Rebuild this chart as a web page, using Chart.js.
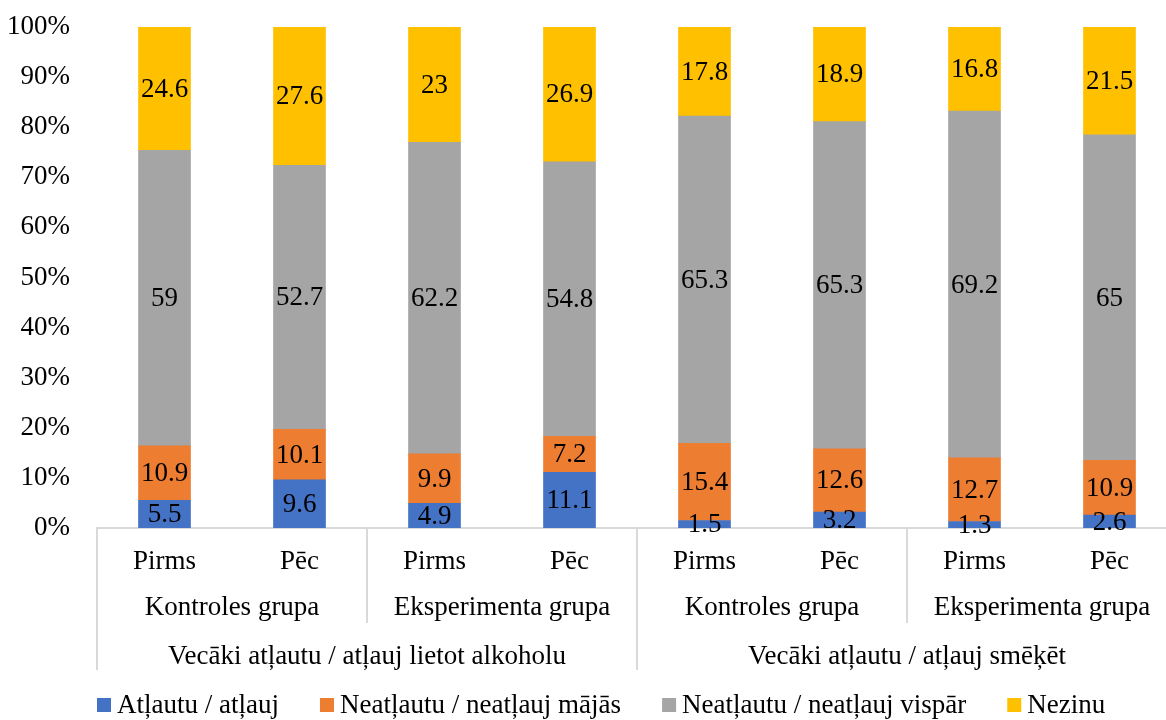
<!DOCTYPE html>
<html lang="lv">
<head>
    <meta charset="UTF-8">
    <title>Vecāki atļautu / atļauj</title>
    <script src="https://cdn.jsdelivr.net/npm/chart.js"></script>
    <style>
        html, body {
            margin: 0;
            padding: 0;
            background: #ffffff;
            overflow: hidden;
        }
        #wrap {
            width: 1178px;
            height: 720px;
        }
    </style>
</head>
<body>
    <div id="wrap"><canvas id="chart"></canvas></div>

    <script>
        // category levels
        const subLabels = ['Pirms', 'Pēc', 'Pirms', 'Pēc', 'Pirms', 'Pēc', 'Pirms', 'Pēc'];
        const groupLabels = ['Kontroles grupa', 'Eksperimenta grupa', 'Kontroles grupa', 'Eksperimenta grupa'];
        const mainLabels = ['Vecāki atļautu / atļauj lietot alkoholu', 'Vecāki atļautu / atļauj smēķēt'];

        // series values (%)
        const atlautu = [5.5, 9.6, 4.9, 11.1, 1.5, 3.2, 1.3, 2.6];
        const neatlMajas = [10.9, 10.1, 9.9, 7.2, 15.4, 12.6, 12.7, 10.9];
        const neatlVispar = [59, 52.7, 62.2, 54.8, 65.3, 65.3, 69.2, 65];
        const nezinu = [24.6, 27.6, 23, 26.9, 17.8, 18.9, 16.8, 21.5];

        const seriesNames = ['Atļautu / atļauj', 'Neatļautu / neatļauj mājās', 'Neatļautu / neatļauj vispār', 'Nezinu'];
        const seriesColors = ['#4472C4', '#ED7D31', '#A5A5A5', '#FFC000'];

        const FONT = 'Liberation Serif, Times New Roman, serif';
        const SIZE = 27;
        const lineColor = '#d9d9d9';

        // value labels in the middle of each segment
        const valueLabels = {
            id: 'valueLabels',
            afterDatasetsDraw(chart) {
                const ctx = chart.ctx;
                ctx.save();
                ctx.font = SIZE + 'px ' + FONT;
                ctx.fillStyle = '#000';
                ctx.textAlign = 'center';
                ctx.textBaseline = 'middle';
                chart.data.datasets.forEach((ds, di) => {
                    chart.getDatasetMeta(di).data.forEach((bar, i) => {
                        ctx.fillText(String(ds.data[i]), bar.x, (bar.y + bar.base) / 2 + 1);
                    });
                });
                ctx.restore();
            }
        };

        // group and main category rows with separator lines
        const multiLevelAxis = {
            id: 'multiLevelAxis',
            afterDraw(chart) {
                const ctx = chart.ctx;
                const x = chart.scales.x;
                const bottom = chart.chartArea.bottom;
                const n = subLabels.length;
                const step = x.getPixelForValue(1) - x.getPixelForValue(0);
                const edge = i => x.getPixelForValue(i) - step / 2;

                ctx.save();
                ctx.strokeStyle = lineColor;
                ctx.lineWidth = 2;
                const perGroup = n / groupLabels.length;
                const perMain = n / mainLabels.length;
                for (let i = 0; i < n; i += perGroup) {
                    const longLine = i % perMain === 0;
                    const xx = Math.round(edge(i));
                    ctx.beginPath();
                    ctx.moveTo(xx, bottom);
                    ctx.lineTo(xx, longLine ? bottom + 142 : bottom + 95);
                    ctx.stroke();
                }

                ctx.font = SIZE + 'px ' + FONT;
                ctx.fillStyle = '#000';
                ctx.textAlign = 'center';
                ctx.textBaseline = 'middle';
                groupLabels.forEach((lab, g) => {
                    const cx = (edge(g * perGroup) + edge((g + 1) * perGroup)) / 2;
                    ctx.fillText(lab, cx, bottom + 80);
                });
                mainLabels.forEach((lab, m) => {
                    const cx = (edge(m * perMain) + edge((m + 1) * perMain)) / 2;
                    ctx.fillText(lab, cx, bottom + 129);
                });
                ctx.restore();
            }
        };

        // legend row under the axis
        const bottomLegend = {
            id: 'bottomLegend',
            afterDraw(chart) {
                const ctx = chart.ctx;
                const y = 705;
                let xx = 97;
                ctx.save();
                ctx.font = SIZE + 'px ' + FONT;
                ctx.textAlign = 'left';
                ctx.textBaseline = 'middle';
                chart.data.datasets.forEach(ds => {
                    ctx.fillStyle = ds.backgroundColor;
                    ctx.fillRect(xx, y - 7, 14, 14);
                    ctx.fillStyle = '#000';
                    ctx.fillText(ds.label, xx + 20, y + 1);
                    xx += 20 + ctx.measureText(ds.label).width + 41;
                });
                ctx.restore();
            }
        };

        const datasets = [atlautu, neatlMajas, neatlVispar, nezinu].map((vals, k) => ({
            label: seriesNames[k],
            data: vals,
            backgroundColor: seriesColors[k],
            borderWidth: 0,
            barThickness: 52
        }));

        new Chart(document.getElementById('chart'), {
            type: 'bar',
            data: { labels: subLabels, datasets: datasets },
            options: {
                responsive: true,
                maintainAspectRatio: false,
                animation: false,
                layout: { padding: { top: 27, right: 1, left: 0, bottom: 50 } },
                plugins: {
                    tooltip: { enabled: false },
                    legend: { display: false }
                },
                scales: {
                    x: {
                        stacked: true,
                        grid: { display: false, drawTicks: false },
                        border: { display: true, color: lineColor, width: 2 },
                        ticks: {
                            font: { family: FONT, size: SIZE },
                            color: '#000',
                            padding: 18,
                            maxRotation: 0,
                            autoSkip: false
                        },
                        afterFit(scale) { scale.height = 142; }
                    },
                    y: {
                        stacked: true,
                        min: 0,
                        max: 100,
                        grid: { display: false, drawTicks: false },
                        border: { display: false },
                        ticks: {
                            stepSize: 10,
                            font: { family: FONT, size: SIZE },
                            color: '#000',
                            padding: 27,
                            callback: v => v + '%'
                        },
                        afterFit(scale) {
                            scale.width = 97;
                            scale.paddingTop = 0;
                        }
                    }
                }
            },
            plugins: [valueLabels, multiLevelAxis, bottomLegend]
        });
    </script>
</body>
</html>
